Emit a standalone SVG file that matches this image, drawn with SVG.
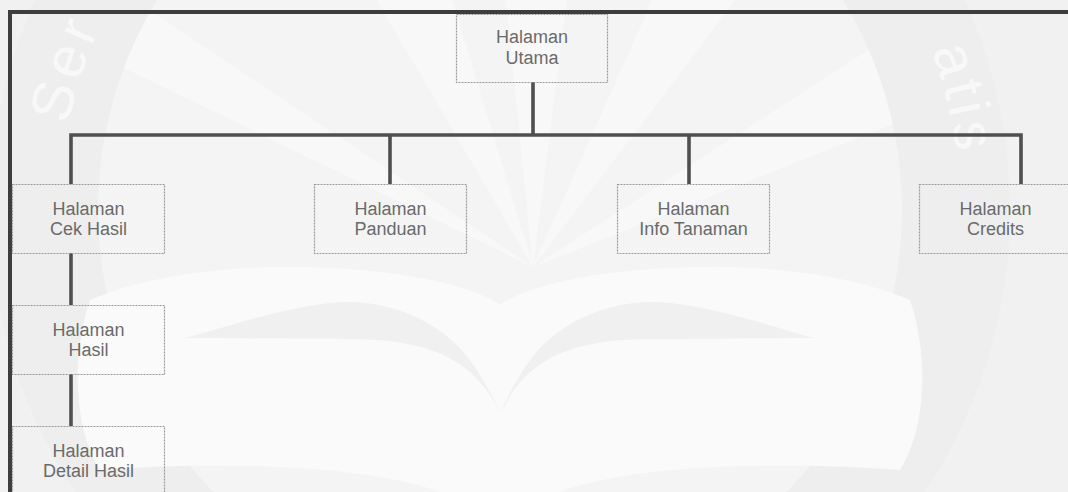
<svg xmlns="http://www.w3.org/2000/svg" width="1068" height="492" viewBox="0 0 1068 492">
  <style>
    .box { fill: none; stroke: #9a9a9a; stroke-width: 1.2; stroke-dasharray: 2 1; }
    .label { font-family: "Liberation Sans", Arial, sans-serif; font-size: 18px; fill: #6a6a6a; text-anchor: middle; }
    .link { fill: none; stroke: #4f4f4f; stroke-width: 3.6; stroke-linecap: butt; stroke-linejoin: miter; }
    .frame { fill: #3d3d3d; }
    .mark { font-family: "Liberation Sans", Arial, sans-serif; font-size: 58px; fill: #f8f8f8; letter-spacing: 5px; }
  </style>
  <defs>
    <clipPath id="inner">
      <circle cx="500" cy="210" r="402"/>
    </clipPath>
    <clipPath id="outer">
      <circle cx="500" cy="210" r="505"/>
    </clipPath>
    <path id="ring-left" d="M 60,210 A 440 440 0 0 1 940,210"/>
    <path id="ring-text" d="M 40,210 A 460 460 0 0 1 960,210"/>
  </defs>

  <!-- background seal -->
  <g id="seal">
    <rect x="0" y="0" width="1068" height="492" fill="#f1f1f1"/>
    <circle cx="500" cy="210" r="510" fill="#eeeeee"/>
    <circle cx="500" cy="210" r="402" fill="#f4f4f4"/>
    <g clip-path="url(#inner)" fill="#f8f8f8">
      <path d="M533,267 L-200,-90 L-150,-190 Z"/>
      <path d="M533,267 L260,-200 L380,-240 Z"/>
      <path d="M533,267 L480,-260 L600,-260 Z"/>
      <path d="M533,267 L760,-240 L880,-190 Z"/>
      <path d="M533,267 L1100,-100 L1180,10 Z"/>
    </g>
    <!-- open book -->
    <g clip-path="url(#outer)">
      <path d="M90,300 C160,270 260,262 360,270 C430,276 480,290 500,305 C520,290 570,276 640,270 C740,262 840,270 910,300 C930,360 925,430 900,470 C800,462 640,462 560,492 L440,492 C360,462 200,462 100,470 C75,430 70,360 90,300 Z" fill="#fafafa"/>
      <path d="M186,338 C230,326 300,302 349,302 C390,302 440,320 470,360 C485,382 495,400 501,415 C490,390 470,365 436,352 C410,342 380,339 349,339 C300,339 240,338 186,338 Z" fill="#f0f0f0"/>
      <path d="M814,338 C770,326 700,302 651,302 C610,302 560,320 530,360 C515,382 505,400 501,415 C510,390 530,365 564,352 C590,342 620,339 651,339 C700,339 760,338 814,338 Z" fill="#f0f0f0"/>
    </g>
    <text class="mark"><textPath href="#ring-left" startOffset="86">Ser</textPath></text>
    <text class="mark" text-anchor="end"><textPath href="#ring-text" startOffset="1392">atis</textPath></text>
  </g>

  <!-- page frame -->
  <rect class="frame" x="8" y="10" width="1060" height="4"/>
  <rect class="frame" x="8" y="10" width="4" height="482"/>

  <!-- connectors -->
  <g id="connectors">
    <path class="link" d="M533,82 V135"/>
    <path class="link" d="M71,184 V135 H1021 V184"/>
    <path class="link" d="M390,135 V184"/>
    <path class="link" d="M689,135 V184"/>
    <path class="link" d="M71,253 V305"/>
    <path class="link" d="M71,374 V426"/>
  </g>

  <g id="utama">
    <rect class="box" x="456.5" y="14.5" width="151" height="68"/>
    <text class="label" x="532" y="43">Halaman</text>
    <text class="label" x="532" y="64">Utama</text>
  </g>
  <g id="cek-hasil">
    <rect class="box" x="12.5" y="184.5" width="152" height="69"/>
    <text class="label" x="88.5" y="215">Halaman</text>
    <text class="label" x="88.5" y="235">Cek Hasil</text>
  </g>
  <g id="panduan">
    <rect class="box" x="314.5" y="184.5" width="152" height="69"/>
    <text class="label" x="390.5" y="215">Halaman</text>
    <text class="label" x="390.5" y="235">Panduan</text>
  </g>
  <g id="info-tanaman">
    <rect class="box" x="617.5" y="184.5" width="152" height="69"/>
    <text class="label" x="693.5" y="215">Halaman</text>
    <text class="label" x="693.5" y="235">Info Tanaman</text>
  </g>
  <g id="credits">
    <rect class="box" x="919.5" y="184.5" width="152" height="69"/>
    <text class="label" x="995.5" y="215">Halaman</text>
    <text class="label" x="995.5" y="235">Credits</text>
  </g>
  <g id="hasil">
    <rect class="box" x="12.5" y="305.5" width="152" height="69"/>
    <text class="label" x="88.5" y="336">Halaman</text>
    <text class="label" x="88.5" y="356">Hasil</text>
  </g>
  <g id="detail-hasil">
    <rect class="box" x="12.5" y="426.5" width="152" height="69"/>
    <text class="label" x="88.5" y="457">Halaman</text>
    <text class="label" x="88.5" y="477">Detail Hasil</text>
  </g>
</svg>
